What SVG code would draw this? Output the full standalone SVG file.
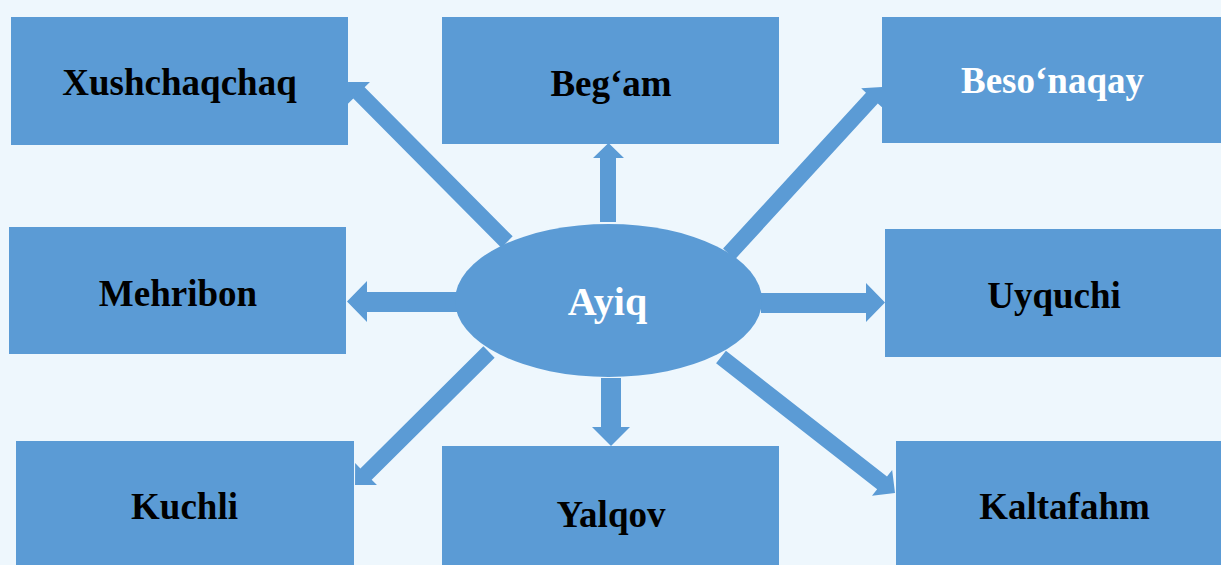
<svg xmlns="http://www.w3.org/2000/svg" width="1221" height="565" viewBox="0 0 1221 565">
<style>
.box{fill:#5B9BD5}
.arr{fill:#5B9BD5}
.lbl{font-family:"Liberation Serif","Times New Roman",serif;font-weight:bold;font-size:37px;text-anchor:middle;fill:#000}
.w{fill:#fff}
</style>
<rect width="1221" height="565" fill="#EEF7FD"/>
<g id="connectors">
<polygon class="arr" points="600,222 600,158 593,158 608.5,143 624,158 616,158 616,222"/>
<polygon class="arr" points="601,378 621,378 621,427 630,427 611,446 592,427 601,427"/>
<polygon class="arr" points="458,292 367,292 367,281 347,301.5 367,322 367,312 458,312"/>
<polygon class="arr" points="761,293 866,293 866,283 885,302.5 866,322 866,313 761,313"/>
<path class="arr" transform="translate(507,242) rotate(225.2)" d="M0,-8 H210.1 V-15.5 L225.6,0 L210.1,15.5 V8 H0 Z"/>
<path class="arr" transform="translate(729,254) rotate(-47.5)" d="M0,-8 H211.5 V-14.5 L226.5,0 L211.5,14.5 V8 H0 Z"/>
<path class="arr" transform="translate(489,352) rotate(135.2)" d="M0,-8 H173.3 V-15.5 L188.8,0 L173.3,15.5 V8 H0 Z"/>
<path class="arr" transform="translate(721,357) rotate(38)" d="M0,-8 H204.4 V-16.4 L220.8,0 L204.4,16.4 V8 H0 Z"/>
</g>
<g id="n-xushchaqchaq"><rect class="box" x="11" y="17" width="337" height="128"/><text class="lbl" x="179.5" y="95">Xushchaqchaq</text></g>
<g id="n-begam"><rect class="box" x="442" y="17" width="337" height="127"/><text class="lbl" x="611" y="96">Beg‘am</text></g>
<g id="n-besonaqay"><rect class="box" x="882" y="17" width="339" height="126"/><text class="lbl w" x="1052.5" y="93">Beso‘naqay</text></g>
<g id="n-mehribon"><rect class="box" x="9" y="227" width="337" height="127"/><text class="lbl" x="178" y="306">Mehribon</text></g>
<g id="n-uyquchi"><rect class="box" x="885" y="229" width="336" height="128"/><text class="lbl" x="1054" y="308">Uyquchi</text></g>
<g id="n-kuchli"><rect class="box" x="16" y="441" width="338" height="124"/><text class="lbl" x="184.5" y="519">Kuchli</text></g>
<g id="n-yalqov"><rect class="box" x="442" y="446" width="337" height="119"/><text class="lbl" x="611" y="527">Yalqov</text></g>
<g id="n-kaltafahm"><rect class="box" x="896" y="441" width="325" height="124"/><text class="lbl" x="1064.5" y="519">Kaltafahm</text></g>
<g id="n-ayiq"><ellipse class="box" cx="608.5" cy="300.5" rx="153.5" ry="76.5"/><text class="lbl w" x="607.5" y="315" style="font-size:40px">Ayiq</text></g>
</svg>
